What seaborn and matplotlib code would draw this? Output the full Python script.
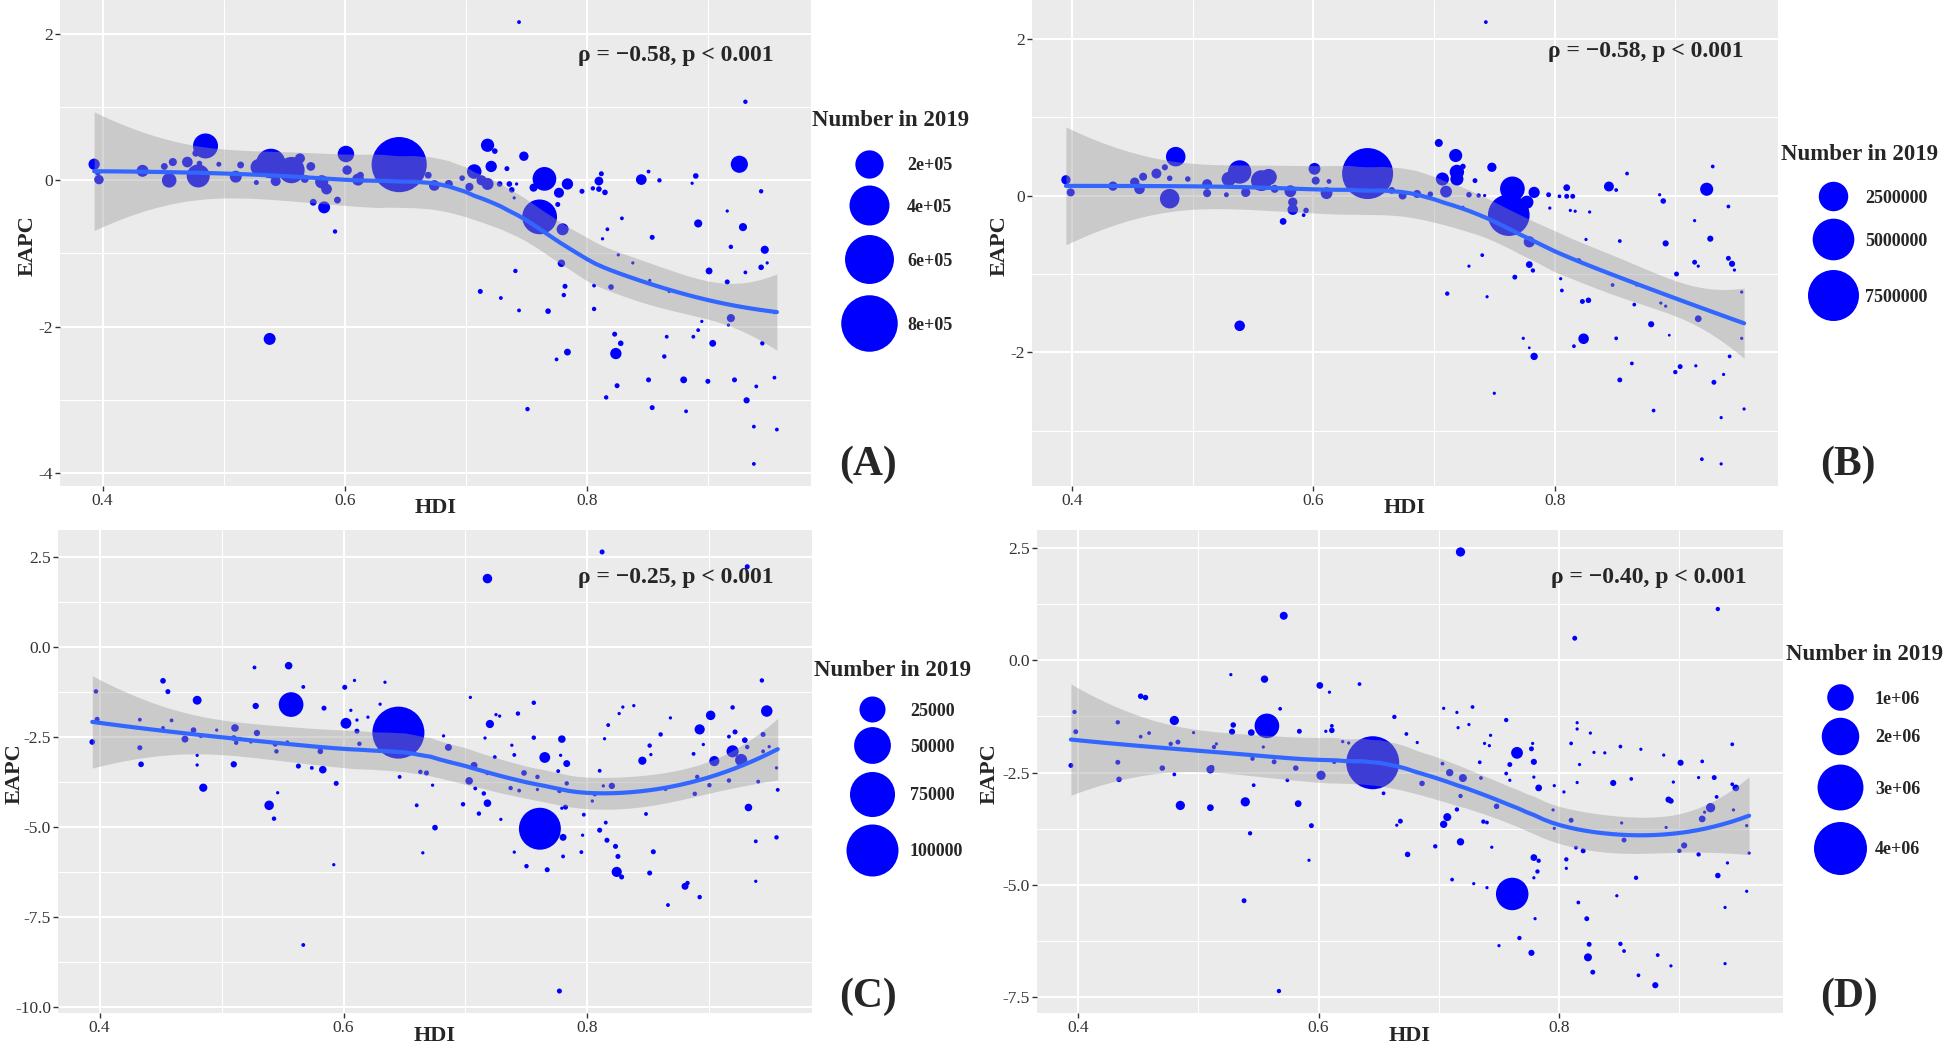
import numpy as np
import pandas as pd
import seaborn as sns
import matplotlib
matplotlib.use("Agg")
import matplotlib.pyplot as plt
from matplotlib.lines import Line2D

# ---- Panel A ----
hdi_a = [0.393, 0.397, 0.396, 0.433, 0.451, 0.455, 0.458, 0.470, 0.479, 0.485,
         0.477, 0.480, 0.496, 0.510, 0.514, 0.527, 0.539, 0.529, 0.543, 0.556,
         0.563, 0.567, 0.572, 0.581, 0.585, 0.574, 0.583, 0.594, 0.592, 0.538,
         0.601, 0.602, 0.611, 0.613, 0.645, 0.669, 0.674, 0.686, 0.697, 0.707,
         0.703, 0.744, 0.718, 0.724, 0.721, 0.718, 0.713, 0.734, 0.748, 0.728,
         0.736, 0.738, 0.742, 0.740, 0.765, 0.756, 0.777, 0.784, 0.776, 0.761,
         0.780, 0.779, 0.782, 0.781, 0.768, 0.741, 0.712, 0.729, 0.744, 0.751,
         0.784, 0.775, 0.796, 0.805, 0.810, 0.812, 0.810, 0.815, 0.817, 0.813,
         0.829, 0.826, 0.838, 0.806, 0.820, 0.806, 0.823, 0.828, 0.824, 0.825,
         0.816, 0.845, 0.851, 0.860, 0.854, 0.852, 0.868, 0.866, 0.864, 0.851,
         0.854, 0.880, 0.882, 0.890, 0.887, 0.892, 0.901, 0.895, 0.892, 0.888,
         0.904, 0.900, 0.926, 0.916, 0.919, 0.916, 0.919, 0.917, 0.922, 0.931,
         0.929, 0.931, 0.932, 0.940, 0.938, 0.938, 0.944, 0.947, 0.944, 0.949,
         0.945, 0.955, 0.957, 0.955]
eapc_a = [0.22, 0.01, 0.105, 0.13, 0.19, 0.00, 0.25, 0.25, 0.06, 0.47,
          0.37, 0.23, 0.22, 0.05, 0.21, -0.03, 0.23, 0.18, -0.01, 0.14,
          0.30, 0.02, 0.19, -0.02, -0.12, -0.30, -0.37, -0.27, -0.70, -2.17,
          0.36, 0.14, 0.01, 0.07, 0.215, 0.07, -0.07, -0.05, 0.03, 0.12,
          -0.09, 2.165, 0.48, 0.40, 0.19, -0.05, 0.00, 0.16, 0.33, -0.05,
          -0.05, -0.13, -0.05, -0.24, 0.02, -0.10, -0.17, -0.05, -0.33, -0.50,
          -0.67, -1.135, -1.45, -1.57, -1.79, -1.24, -1.52, -1.61, -1.78, -3.13,
          -2.35, -2.45, -0.15, -0.11, -0.01, 0.09, -0.12, -0.165, -0.67, -0.80,
          -0.52, -1.02, -1.13, -1.44, -1.46, -1.76, -2.105, -2.23, -2.37, -2.81,
          -2.97, 0.01, 0.12, 0.00, -0.78, -1.37, -1.52, -2.14, -2.41, -2.73,
          -3.11, -2.73, -3.16, 0.06, -0.04, -0.59, -1.24, -1.93, -2.05, -2.14,
          -2.23, -2.75, 0.22, -0.42, -0.91, -1.39, -1.885, -1.98, -2.73, 1.075,
          -0.64, -1.26, -3.01, -2.82, -3.37, -3.88, -0.15, -0.95, -1.19, -1.13,
          -2.23, -2.70, -3.41, -1.81]
num_a = [31200, 21200, 6900, 35000, 10800, 52300, 15600, 27700, 132300, 156000,
         10800, 6900, 5300, 35000, 10800, 5300, 218700, 67500, 24300, 172800,
         24300, 15600, 18300, 43200, 27700, 10800, 35000, 10800, 3900, 35000,
         67500, 21200, 35000, 10800, 762000, 10800, 27700, 15600, 6900, 52300,
         15600, 2700, 43200, 6900, 31200, 35000, 24300, 5300, 21200, 6900,
         6900, 6900, 1700, 1700, 140000, 15600, 24300, 31200, 5300, 303000,
         35000, 13100, 5300, 3900, 6900, 3900, 5300, 2700, 2700, 3900,
         10800, 2700, 5300, 3900, 18300, 5300, 6900, 6900, 2700, 1700,
         2700, 1700, 1700, 2700, 6900, 3900, 5300, 6900, 31200, 5300,
         3900, 27700, 2700, 3900, 5300, 1700, 1700, 2700, 3900, 5300,
         5300, 10800, 2700, 6900, 1700, 15600, 10800, 1700, 2700, 2700,
         10800, 5300, 73000, 1700, 3900, 5300, 15600, 1700, 5300, 3900,
         15600, 2700, 8700, 2700, 2700, 2700, 3900, 15600, 6900, 1700,
         3900, 2700, 2700, 1700]

# ---- Panel B ----
hdi_b = [0.395, 0.399, 0.434, 0.452, 0.456, 0.459, 0.470, 0.477, 0.481, 0.486,
         0.481, 0.496, 0.512, 0.512, 0.528, 0.530, 0.539, 0.544, 0.539, 0.557,
         0.563, 0.568, 0.581, 0.583, 0.583, 0.575, 0.594, 0.592, 0.601, 0.602,
         0.611, 0.613, 0.645, 0.665, 0.674, 0.686, 0.697, 0.704, 0.718, 0.707,
         0.719, 0.719, 0.710, 0.724, 0.734, 0.748, 0.729, 0.737, 0.724, 0.742,
         0.765, 0.762, 0.777, 0.783, 0.779, 0.779, 0.782, 0.767, 0.740, 0.729,
         0.711, 0.744, 0.750, 0.774, 0.779, 0.783, 0.795, 0.804, 0.810, 0.810,
         0.815, 0.796, 0.813, 0.817, 0.829, 0.820, 0.826, 0.805, 0.806, 0.823,
         0.828, 0.824, 0.816, 0.845, 0.851, 0.860, 0.854, 0.848, 0.868, 0.866,
         0.851, 0.864, 0.854, 0.880, 0.882, 0.887, 0.890, 0.892, 0.888, 0.892,
         0.895, 0.901, 0.900, 0.904, 0.926, 0.916, 0.929, 0.931, 0.916, 0.919,
         0.919, 0.917, 0.932, 0.940, 0.922, 0.938, 0.938, 0.944, 0.944, 0.947,
         0.949, 0.945, 0.955, 0.955, 0.957, 0.743]
eapc_b = [0.20, 0.04, 0.12, 0.17, 0.085, 0.24, 0.28, 0.36, -0.04, 0.495,
          0.22, 0.21, 0.145, 0.03, 0.01, 0.21, 0.30, 0.04, -1.66, 0.19,
          0.235, 0.085, 0.055, -0.085, -0.18, -0.33, -0.19, -0.25, 0.34, 0.19,
          0.03, 0.18, 0.28, 0.065, 0.00, 0.02, 0.017, 0.67, 0.51, 0.21,
          0.30, 0.21, 0.05, 0.37, 0.19, 0.36, 0.01, 0.00, -0.15, 0.00,
          0.085, -0.25, -0.085, 0.04, -0.59, -0.88, -0.955, -1.04, -0.76, -0.90,
          -1.25, -1.29, -2.52, -1.82, -1.94, -2.05, 0.01, -0.01, 0.10, -0.01,
          -0.01, -0.16, -0.19, -0.20, -0.21, -0.83, -0.56, -1.06, -1.21, -1.35,
          -1.335, -1.825, -1.92, 0.115, 0.07, 0.28, -0.58, -1.14, -1.14, -1.39,
          -1.82, -2.14, -2.35, -1.64, -2.74, 0.01, -0.07, -0.61, -1.37, -1.41,
          -1.78, -1.00, -2.25, -2.18, 0.08, -0.32, -0.55, 0.37, -0.85, -0.90,
          -1.57, -2.17, -2.38, -2.28, -3.36, -3.42, -2.83, -0.14, -0.80, -0.87,
          -0.95, -2.05, -1.23, -1.82, -2.72, 2.21]
num_b = [238000, 175000, 238000, 238000, 311000, 175000, 273000, 98000, 1090000, 1090000,
         78000, 78000, 273000, 175000, 59000, 588000, 1570000, 238000, 311000, 1240000,
         759000, 175000, 393000, 238000, 311000, 121000, 78000, 30000, 393000, 175000,
         393000, 59000, 8300000, 121000, 175000, 175000, 78000, 175000, 486000, 486000,
         588000, 486000, 393000, 78000, 59000, 238000, 78000, 44000, 19000, 19000,
         1750000, 5000000, 486000, 351000, 351000, 121000, 44000, 59000, 30000, 19000,
         44000, 19000, 19000, 19000, 11000, 147000, 59000, 30000, 121000, 59000,
         59000, 19000, 19000, 19000, 19000, 59000, 19000, 19000, 30000, 59000,
         78000, 311000, 30000, 273000, 30000, 30000, 30000, 30000, 19000, 30000,
         30000, 30000, 59000, 98000, 30000, 19000, 78000, 98000, 19000, 19000,
         11000, 59000, 44000, 59000, 486000, 19000, 98000, 30000, 59000, 19000,
         121000, 19000, 59000, 19000, 30000, 19000, 19000, 30000, 59000, 98000,
         19000, 30000, 19000, 19000, 19000, 30000]

# ---- Panel C ----
hdi_c = [0.394, 0.398, 0.397, 0.433, 0.433, 0.434, 0.452, 0.456, 0.452, 0.459,
         0.470, 0.477, 0.483, 0.480, 0.480, 0.480, 0.485, 0.496, 0.511, 0.510,
         0.512, 0.510, 0.515, 0.524, 0.527, 0.528, 0.529, 0.544, 0.545, 0.539,
         0.546, 0.543, 0.555, 0.557, 0.554, 0.567, 0.567, 0.563, 0.574, 0.583,
         0.581, 0.584, 0.594, 0.592, 0.601, 0.602, 0.609, 0.606, 0.611, 0.611,
         0.613, 0.620, 0.630, 0.634, 0.645, 0.646, 0.663, 0.668, 0.673, 0.660,
         0.675, 0.665, 0.686, 0.698, 0.704, 0.703, 0.718, 0.812, 0.931, 0.682,
         0.707, 0.708, 0.715, 0.718, 0.711, 0.718, 0.720, 0.725, 0.728, 0.716,
         0.724, 0.743, 0.756, 0.756, 0.738, 0.740, 0.737, 0.744, 0.748, 0.759,
         0.759, 0.729, 0.765, 0.779, 0.778, 0.783, 0.776, 0.783, 0.777, 0.782,
         0.779, 0.761, 0.780, 0.740, 0.750, 0.767, 0.780, 0.777, 0.795, 0.796,
         0.797, 0.804, 0.806, 0.810, 0.813, 0.820, 0.814, 0.817, 0.826, 0.829,
         0.838, 0.815, 0.810, 0.816, 0.823, 0.825, 0.824, 0.828, 0.848, 0.851,
         0.852, 0.845, 0.854, 0.851, 0.860, 0.868, 0.864, 0.866, 0.880, 0.882,
         0.892, 0.892, 0.901, 0.895, 0.887, 0.890, 0.888, 0.900, 0.904, 0.919,
         0.921, 0.916, 0.919, 0.926, 0.929, 0.931, 0.916, 0.932, 0.938, 0.938,
         0.943, 0.947, 0.944, 0.944, 0.949, 0.940, 0.955, 0.956, 0.955]
eapc_c = [-2.65, -2.02, -1.245, -2.03, -2.81, -3.27, -0.95, -1.25, -2.26, -2.05,
          -2.57, -2.32, -2.48, -1.49, -3.02, -3.29, -3.92, -2.32, -2.26, -2.54,
          -2.67, -3.27, -2.56, -2.65, -0.58, -1.65, -2.40, -2.71, -2.91, -4.41,
          -4.06, -4.78, -0.53, -1.61, -2.65, -1.12, -8.29, -3.32, -3.37, -3.42,
          -2.91, -1.71, -3.80, -6.06, -1.13, -2.13, -0.94, -1.77, -2.04, -2.35,
          -2.70, -1.96, -1.60, -0.99, -2.39, -3.62, -3.48, -3.51, -3.85, -4.41,
          -5.03, -5.73, -2.80, -4.38, -1.41, -3.73, 1.89, 2.63, 2.22, -2.48,
          -3.30, -3.94, -4.08, -4.35, -4.64, -3.51, -2.15, -1.89, -1.93, -2.54,
          -3.07, -1.86, -1.56, -2.53, -2.74, -3.01, -3.93, -4.00, -3.51, -3.62,
          -3.97, -4.80, -3.08, -2.57, -3.02, -3.25, -3.46, -3.80, -4.01, -4.46,
          -4.49, -5.06, -5.30, -5.71, -6.10, -6.20, -5.83, -9.57, -5.71, -5.24,
          -4.67, -4.29, -4.10, -3.45, -3.87, -3.87, -2.56, -2.18, -1.86, -1.68,
          -1.64, -4.89, -5.10, -5.38, -5.55, -5.83, -6.26, -6.40, -4.65, -2.75,
          -3.00, -3.17, -5.70, -6.29, -2.44, -1.98, -3.96, -7.18, -6.66, -6.57,
          -6.96, -2.30, -1.91, -2.72, -2.98, -3.62, -4.09, -3.85, -3.18, -1.69,
          -2.37, -2.50, -2.91, -3.15, -2.60, -2.79, -3.72, -4.47, -5.41, -6.52,
          -0.94, -1.79, -2.44, -2.91, -2.78, -3.75, -3.37, -3.98, -5.30]
num_c = [1050, 800, 590, 410, 800, 1050, 1050, 800, 410, 410,
         1640, 1050, 590, 2770, 260, 260, 2360, 260, 1980, 1050,
         590, 1330, 410, 260, 410, 1330, 1330, 800, 590, 3210,
         260, 590, 1980, 22450, 260, 410, 410, 800, 410, 1980,
         1050, 800, 800, 260, 800, 4200, 260, 260, 260, 800,
         590, 260, 260, 260, 118500, 410, 590, 800, 260, 410,
         1050, 260, 1640, 590, 260, 1980, 3210, 800, 800, 260,
         1640, 410, 590, 1980, 590, 590, 2360, 260, 260, 260,
         410, 590, 590, 590, 260, 410, 590, 410, 1050, 590,
         260, 260, 4200, 1980, 260, 1640, 410, 590, 590, 800,
         260, 65000, 1640, 260, 590, 800, 410, 800, 410, 260,
         410, 260, 590, 410, 260, 1330, 260, 410, 260, 260,
         260, 410, 800, 800, 800, 800, 3690, 800, 410, 590,
         260, 2360, 800, 800, 590, 260, 410, 410, 1640, 590,
         590, 3690, 3210, 260, 410, 590, 590, 590, 3690, 590,
         800, 410, 5310, 5310, 1050, 590, 590, 1980, 410, 260,
         590, 4740, 800, 410, 260, 410, 260, 410, 590]

# ---- Panel D ----
hdi_d = [0.394, 0.397, 0.398, 0.433, 0.433, 0.434, 0.452, 0.456, 0.452, 0.459,
         0.470, 0.477, 0.483, 0.480, 0.480, 0.485, 0.496, 0.510, 0.511, 0.510,
         0.513, 0.515, 0.527, 0.529, 0.528, 0.539, 0.543, 0.538, 0.544, 0.545,
         0.555, 0.557, 0.554, 0.563, 0.568, 0.571, 0.567, 0.546, 0.574, 0.581,
         0.584, 0.583, 0.594, 0.592, 0.601, 0.602, 0.609, 0.606, 0.611, 0.611,
         0.613, 0.620, 0.634, 0.625, 0.645, 0.654, 0.663, 0.673, 0.682, 0.668,
         0.665, 0.674, 0.686, 0.697, 0.703, 0.704, 0.709, 0.704, 0.707, 0.718,
         0.715, 0.716, 0.725, 0.728, 0.718, 0.720, 0.718, 0.715, 0.711, 0.729,
         0.740, 0.737, 0.740, 0.744, 0.748, 0.734, 0.735, 0.738, 0.742, 0.743,
         0.756, 0.765, 0.759, 0.756, 0.759, 0.777, 0.779, 0.778, 0.783, 0.779,
         0.779, 0.783, 0.782, 0.779, 0.780, 0.761, 0.767, 0.750, 0.777, 0.795,
         0.796, 0.804, 0.796, 0.806, 0.806, 0.810, 0.813, 0.810, 0.815, 0.815,
         0.817, 0.815, 0.814, 0.820, 0.826, 0.829, 0.838, 0.816, 0.823, 0.825,
         0.824, 0.828, 0.845, 0.851, 0.852, 0.854, 0.860, 0.868, 0.864, 0.848,
         0.851, 0.854, 0.866, 0.880, 0.882, 0.893, 0.887, 0.889, 0.901, 0.895,
         0.900, 0.904, 0.891, 0.893, 0.916, 0.919, 0.916, 0.919, 0.926, 0.929,
         0.931, 0.921, 0.932, 0.932, 0.940, 0.938, 0.938, 0.944, 0.944, 0.947,
         0.945, 0.956, 0.958, 0.956]
eapc_d = [-2.34, -1.15, -1.59, -1.38, -2.27, -2.65, -0.80, -0.83, -1.70, -1.62,
          -2.40, -1.86, -1.82, -1.34, -2.54, -3.23, -1.61, -2.43, -2.39, -3.28,
          -1.93, -1.86, -0.32, -1.44, -1.59, -3.15, -3.85, -5.35, -1.61, -2.19,
          -0.42, -1.46, -1.93, -2.26, -1.08, 0.99, -7.36, -2.78, -2.67, -2.40,
          -1.58, -3.19, -3.68, -4.45, -0.56, -2.56, -0.71, -1.58, -1.56, -1.46,
          -2.26, -1.81, -0.53, -1.84, -2.28, -2.96, -1.26, -1.64, -1.83, -3.58,
          -3.67, -4.32, -2.74, -4.14, -2.30, -1.07, -2.50, -3.65, -3.49, -4.04,
          -1.16, -1.50, -1.43, -1.04, -3.02, -2.62, 2.41, -3.32, -4.88, -4.97,
          -5.06, -3.59, -3.61, -4.16, -3.25, -2.27, -2.62, -1.85, -1.90, -1.67,
          -1.33, -2.06, -2.32, -2.52, -2.67, -1.97, -2.26, -1.85, -2.84, -2.60,
          -4.39, -4.46, -4.70, -4.84, -5.75, -5.20, -6.18, -6.35, -6.51, -3.33,
          -2.79, -2.93, -3.74, -4.43, -4.63, -3.56, 0.49, -1.85, -1.39, -1.53,
          -2.32, -2.72, -4.17, -4.24, -1.62, -2.05, -2.06, -5.39, -5.75, -6.32,
          -6.61, -6.94, -2.73, -1.92, -3.62, -4.00, -2.64, -1.98, -4.84, -5.24,
          -6.31, -6.47, -7.01, -7.23, -6.56, -6.80, -2.11, -3.72, -2.28, -2.71,
          -4.24, -4.12, -3.10, -3.13, -2.61, -2.25, -4.32, -3.53, -3.28, -2.61,
          -3.04, -3.38, 1.14, -4.79, -4.51, -5.50, -6.75, -1.87, -2.76, -2.84,
          -3.33, -3.68, -4.29, -5.14]
num_d = [29200, 21400, 29200, 21400, 29200, 38100, 38100, 38100, 14900, 14900,
         38100, 21400, 29200, 116600, 14900, 116600, 9500, 85700, 38100, 59500,
         21400, 9500, 9500, 38100, 48200, 116600, 21400, 29200, 59500, 21400,
         72000, 859000, 9500, 29200, 14900, 85700, 21400, 14900, 14900, 38100,
         29200, 59500, 29200, 9500, 59500, 116600, 9500, 9500, 38100, 14900,
         21400, 9500, 14900, 9500, 4200000, 14900, 21400, 14900, 9500, 29200,
         9500, 38100, 38100, 21400, 14900, 9500, 72000, 72000, 85700, 72000,
         9500, 9500, 9500, 14900, 21400, 85700, 116600, 21400, 14900, 9500,
         9500, 21400, 14900, 9500, 38100, 14900, 14900, 9500, 9500, 9500,
         21400, 192800, 29200, 14900, 9500, 29200, 48200, 9500, 59500, 9500,
         59500, 21400, 21400, 9500, 9500, 1500000, 21400, 9500, 48200, 9500,
         9500, 9500, 9500, 21400, 9500, 29200, 29200, 14900, 9500, 9500,
         9500, 9500, 14900, 29200, 9500, 9500, 9500, 14900, 29200, 29200,
         85700, 29200, 48200, 14900, 9500, 29200, 14900, 9500, 21400, 9500,
         21400, 14900, 14900, 48200, 14900, 9500, 9500, 9500, 48200, 9500,
         21400, 48200, 48200, 38100, 9500, 14900, 21400, 59500, 116600, 29200,
         14900, 9500, 21400, 38100, 9500, 9500, 9500, 14900, 14900, 59500,
         9500, 9500, 9500, 9500]

# legend breaks and annotation text
breaks_a = [2e5, 4e5, 6e5, 8e5]
labels_a = ["2e+05", "4e+05", "6e+05", "8e+05"]
breaks_b = [2.5e6, 5e6, 7.5e6]
labels_b = ["2500000", "5000000", "7500000"]
breaks_c = [25000, 50000, 75000, 100000]
labels_c = ["25000", "50000", "75000", "100000"]
breaks_d = [1e6, 2e6, 3e6, 4e6]
labels_d = ["1e+06", "2e+06", "3e+06", "4e+06"]
rho_text = ["ρ = −0.58, p < 0.001", "ρ = −0.58, p < 0.001",
            "ρ = −0.25, p < 0.001", "ρ = −0.40, p < 0.001"]


def loess(x, y, grid, span=0.75):
    # local quadratic fit with tricube weights, like R's loess
    n = len(x)
    q = int(np.floor(n * span))

    def row(x0):
        d = np.abs(x - x0)
        h = np.sort(d)[q - 1]
        w = np.clip(1 - (d / h) ** 3, 0, None) ** 3
        X = np.column_stack([np.ones(n), x - x0, (x - x0) ** 2])
        XtW = X.T * w
        return np.linalg.solve(XtW @ X, XtW)[0]

    L = np.array([row(v) for v in x])
    resid = y - L @ y
    M = np.eye(n) - L
    sigma = np.sqrt(np.sum(resid ** 2) / np.trace(M.T @ M))
    G = np.array([row(v) for v in grid])
    return G @ y, sigma * np.sqrt(np.sum(G ** 2, axis=1))


sns.set_theme(style="darkgrid", rc={"axes.facecolor": "#EBEBEB", "grid.color": "white"})
plt.rcParams["font.family"] = ["Liberation Serif", "DejaVu Serif"]
plt.rcParams["axes.unicode_minus"] = False

W, H = 1944, 1047
fig = plt.figure(figsize=(W / 100, H / 100), dpi=100)


def fx(px):
    return px / W


def fy(py):
    return 1 - py / H


panels = [
    dict(hdi=hdi_a, eapc=eapc_a, num=num_a, box=(60, 0, 811, 486),
         yt=[-4, -2, 0, 2], ym=[-3, -1, 1], fmt="{:g}", ylab_x=28,
         rho=rho_text[0], rho_xy=(774, 55), tag="(A)", tag_xy=(868, 465),
         vmax=8e5, smax=1655, breaks=breaks_a, labels=labels_a,
         title_xy=(812, 120), key_x=869, lab_x=907, key_y=[166, 207, 261, 325]),
    dict(hdi=hdi_b, eapc=eapc_b, num=num_b, box=(1032, 0, 1778, 486),
         yt=[-2, 0, 2], ym=[-3, -1, 1], fmt="{:g}", ylab_x=1000,
         rho=rho_text[1], rho_xy=(1744, 52), tag="(B)", tag_xy=(1848, 465),
         vmax=7.5e6, smax=1348, breaks=breaks_b, labels=labels_b,
         title_xy=(1781, 155), key_x=1833, lab_x=1865, key_y=[198, 241, 297]),
    dict(hdi=hdi_c, eapc=eapc_c, num=num_c, box=(58, 530, 812, 1013),
         yt=[-10, -7.5, -5, -2.5, 0, 2.5], ym=[-8.75, -6.25, -3.75, -1.25, 1.25],
         fmt="{:.1f}", ylab_x=15,
         rho=rho_text[2], rho_xy=(774, 578), tag="(C)", tag_xy=(868, 997),
         vmax=1e5, smax=1402, breaks=breaks_c, labels=labels_c,
         title_xy=(814, 671), key_x=872, lab_x=910, key_y=[711, 747, 796, 852]),
    dict(hdi=hdi_d, eapc=eapc_d, num=num_d, box=(1037, 530, 1783, 1013),
         yt=[-7.5, -5, -2.5, 0, 2.5], ym=[-6.25, -3.75, -1.25, 1.25],
         fmt="{:.1f}", ylab_x=990,
         rho=rho_text[3], rho_xy=(1747, 578), tag="(D)", tag_xy=(1849, 997),
         vmax=4e6, smax=1456, breaks=breaks_d, labels=labels_d,
         title_xy=(1786, 654), key_x=1840, lab_x=1875, key_y=[699, 738, 789, 850]),
]

for p in panels:
    left, top, right, bottom = p["box"]
    ax = fig.add_axes([fx(left), fy(bottom), (right - left) / W, (bottom - top) / H])

    df = pd.DataFrame({"HDI": p["hdi"], "EAPC": p["eapc"], "Number": p["num"]})
    sns.scatterplot(data=df, x="HDI", y="EAPC", size="Number",
                    sizes=(2, p["smax"]), size_norm=(0, p["vmax"]),
                    color="#0000FF", linewidth=0, legend=False, ax=ax, zorder=2)

    # loess smooth with 95% band
    x = df["HDI"].to_numpy()
    y = df["EAPC"].to_numpy()
    grid = np.linspace(x.min(), x.max(), 80)
    fit, se = loess(x, y, grid)
    ax.fill_between(grid, fit - 1.97 * se, fit + 1.97 * se, color="#999999",
                    alpha=0.4, lw=0, zorder=3)
    ax.plot(grid, fit, color="#3366FF", lw=3, zorder=4)

    # ggplot-like expanded limits
    xr = x.max() - x.min()
    yr = y.max() - y.min()
    ax.set_xlim(x.min() - 0.05 * xr, x.max() + 0.05 * xr)
    ax.set_ylim(y.min() - 0.05 * yr, y.max() + 0.05 * yr)

    ax.set_xticks([0.4, 0.6, 0.8])
    ax.set_xticks([0.5, 0.7, 0.9], minor=True)
    ax.set_xticklabels(["0.4", "0.6", "0.8"])
    ax.set_yticks(p["yt"])
    ax.set_yticks(p["ym"], minor=True)
    ax.set_yticklabels([p["fmt"].format(v) for v in p["yt"]])

    ax.set_facecolor("#EBEBEB")
    ax.grid(which="major", color="white", lw=1.5)
    ax.grid(which="minor", color="white", lw=0.75)
    ax.set_axisbelow(True)
    for s in ax.spines.values():
        s.set_visible(False)
    ax.tick_params(which="major", bottom=True, left=True, length=3.5, width=1,
                   color="#333333", labelsize=12.5, labelcolor="#333333", pad=1.5)
    ax.tick_params(which="minor", length=0)

    ax.set_xlabel("HDI", fontsize=16, fontweight="bold")
    ax.set_ylabel("EAPC", fontsize=16, fontweight="bold")
    ax.xaxis.label.set_va("center")
    ax.yaxis.label.set_va("center")
    hdi_y = 508 if top == 0 else 1036
    ax.xaxis.set_label_coords(0.5, (bottom - hdi_y) / (bottom - top))
    ax.yaxis.set_label_coords((p["ylab_x"] - left) / (right - left), 0.495)

    # correlation text and panel tag
    fig.text(fx(p["rho_xy"][0]), fy(p["rho_xy"][1]), p["rho"], ha="right",
             va="center", fontsize=17, fontweight="bold")
    fig.text(fx(p["tag_xy"][0]), fy(p["tag_xy"][1]), p["tag"], ha="center",
             va="center", fontsize=30, fontweight="bold")

    # size legend
    fig.text(fx(p["title_xy"][0]), fy(p["title_xy"][1]), "Number in 2019",
             ha="left", va="center", fontsize=16.5, fontweight="bold")
    pad = (p["lab_x"] - p["key_x"]) * 0.72 / 13
    for v, lab, ky in zip(p["breaks"], p["labels"], p["key_y"]):
        s = 2 + (p["smax"] - 2) * v / p["vmax"]
        h = Line2D([], [], linestyle="", marker="o", markersize=np.sqrt(s),
                   markerfacecolor="#0000FF", markeredgewidth=0)
        fig.legend(handles=[h], labels=[lab], loc="center left",
                   bbox_to_anchor=(fx(p["key_x"]), fy(ky)), frameon=False,
                   borderpad=0, borderaxespad=0, handlelength=0,
                   handletextpad=pad, prop={"size": 13, "weight": "bold"})

fig.savefig("out.png", dpi=100)
